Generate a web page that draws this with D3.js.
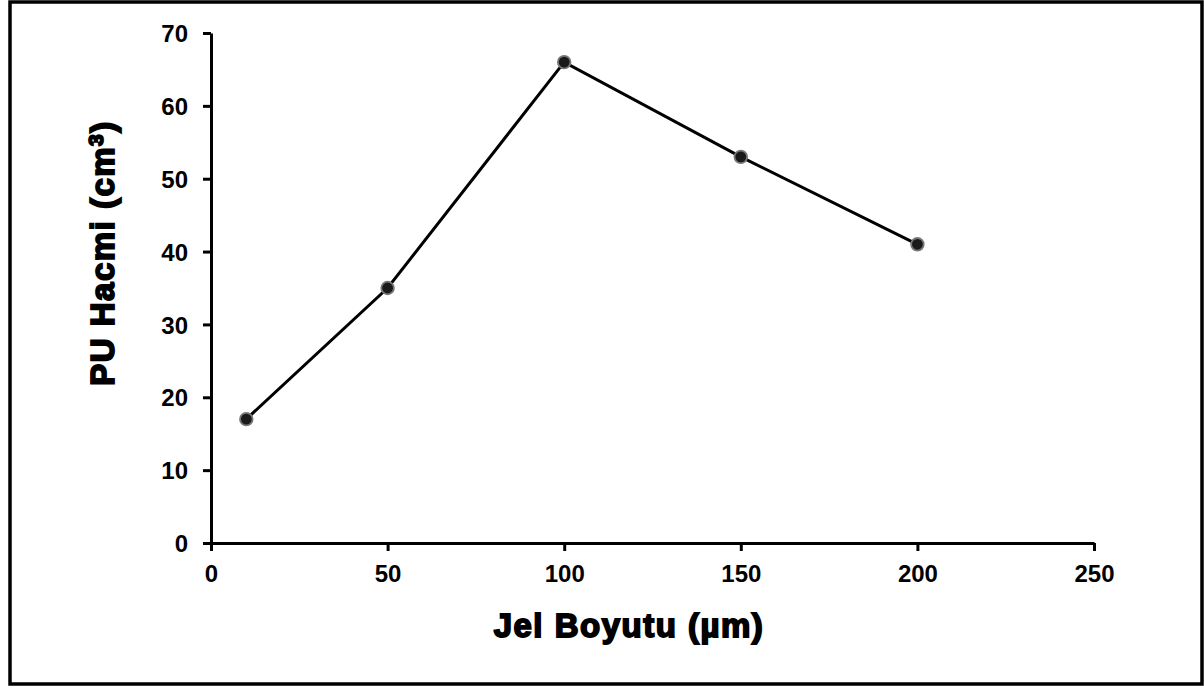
<!DOCTYPE html>
<html><head><meta charset="utf-8">
<script src="https://cdn.jsdelivr.net/npm/d3@7"></script>
<style>body{margin:0;background:#fff}svg{display:block}</style>
</head><body>
<script>
const xValues = [10, 50, 100, 150, 200];
const yValues = [17, 35, 66, 53, 41];
const xTicks = [0, 50, 100, 150, 200, 250];
const yTicks = [0, 10, 20, 30, 40, 50, 60, 70];
const xTitle = "Jel Boyutu (µm)";
const yTitleMain = "PU Hacmi (cm";
const yTitleSup = "3";

const W = 1204, H = 688;
const svg = d3.select("body").append("svg").attr("width", W).attr("height", H);
svg.append("rect").attr("x", 10).attr("y", 2).attr("width", 1192).attr("height", 682)
  .attr("fill", "#fff").attr("stroke", "#000").attr("stroke-width", 3.5);

const x = d3.scaleLinear().domain([0, 250]).range([211, 1094]);
const y = d3.scaleLinear().domain([0, 70]).range([543, 33]);

const font = "'Liberation Sans', Arial, sans-serif";
const xAxis = svg.append("g").attr("transform", `translate(0,${y(0)})`)
  .call(d3.axisBottom(x).tickValues(xTicks).tickSize(8).tickSizeOuter(0).tickPadding(14));
const yAxis = svg.append("g").attr("transform", `translate(${x(0)},0)`)
  .call(d3.axisLeft(y).tickValues(yTicks).tickSize(8).tickSizeOuter(0).tickPadding(15));
[xAxis, yAxis].forEach(g => {
  g.attr("font-size", null);
  g.select(".domain").attr("stroke", "#000").attr("stroke-width", 3);
  g.selectAll(".tick line").attr("stroke", "#000").attr("stroke-width", 3);
  g.selectAll(".tick text").attr("fill", "#000").attr("font-family", font)
    .attr("font-weight", "bold").attr("font-size", "24px");
});
yAxis.selectAll(".tick text").attr("dy", "0.36em");

const pts = xValues.map((v, i) => [v, yValues[i]]);
svg.append("path").datum(pts)
  .attr("d", d3.line().x(d => x(d[0])).y(d => y(d[1])))
  .attr("fill", "none").attr("stroke", "#000").attr("stroke-width", 3);
svg.selectAll("circle.pt").data(pts).join("circle").attr("class", "pt")
  .attr("cx", d => x(d[0])).attr("cy", d => y(d[1])).attr("r", 6.3)
  .attr("fill", "#1a1a1a").attr("stroke", "#777").attr("stroke-width", 1.8);

svg.append("text").attr("x", 629).attr("y", 637).attr("text-anchor", "middle")
  .attr("font-family", font).attr("font-weight", "900").attr("font-size", "33px")
  .attr("letter-spacing", "1.5px")
  .attr("stroke", "#000").attr("stroke-width", 1.8).attr("fill", "#000")
  .text(xTitle);

const yt = svg.append("text").attr("transform", "translate(114,253) rotate(-90)")
  .attr("text-anchor", "middle")
  .attr("font-family", font).attr("font-weight", "900").attr("font-size", "33px")
  .attr("letter-spacing", "1.5px")
  .attr("stroke", "#000").attr("stroke-width", 1.8).attr("fill", "#000");
yt.append("tspan").text(yTitleMain);
yt.append("tspan").attr("dy", -11).attr("font-size", "21px").text(yTitleSup);
yt.append("tspan").attr("dy", 11).text(")");
</script>
</body></html>
